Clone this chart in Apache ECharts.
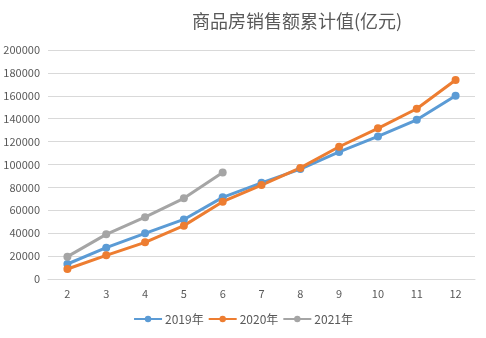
<!DOCTYPE html>
<html><head><meta charset="utf-8">
<script src="https://cdn.jsdelivr.net/npm/echarts@6/dist/echarts.min.js"></script>
<style>html,body{margin:0;padding:0;background:#fff}#c{width:486px;height:338px}</style>
</head><body><div id="c"></div>
<script>
const categories = ['2','3','4','5','6','7','8','9','10','11','12'];
const s2019 = [13100, 27400, 39900, 52000, 71300, 84000, 96000, 111000, 124500, 139000, 160000];
const s2020 = [8700, 20700, 32000, 46600, 67500, 82000, 97000, 115500, 131600, 148700, 173800];
const s2021 = [19500, 39000, 54000, 70500, 93000];
const yTicks = [0, 20000, 40000, 60000, 80000, 100000, 120000, 140000, 160000, 180000, 200000];
const names = ['2019年', '2020年', '2021年'];
const colors = ['#5B9BD5', '#ED7D31', '#A5A5A5'];

const chart = echarts.init(document.getElementById('c'), null, {renderer: 'canvas'});
const font = '"Microsoft YaHei","Noto Sans CJK SC",sans-serif';
function mk(name, data, color) {
  return {name, type: 'line', data, symbol: 'circle', symbolSize: 8,
    lineStyle: {width: 3, color}, itemStyle: {color}, animation: false};
}
chart.setOption({
  animation: false,
  title: {text: '商品房销售额累计值(亿元)', left: 292, top: 7, textAlign: 'center',
    textStyle: {fontSize: 18, fontWeight: 'normal', color: '#595959', fontFamily: font}},
  grid: {left: 48, right: 11, top: 50, bottom: 59},
  legend: {bottom: 8, left: 'center', itemWidth: 28, itemHeight: 8, itemGap: 4,
    textStyle: {fontSize: 12, color: '#595959', fontFamily: font, padding: [0, 0, 0, -2]},
    data: names},
  xAxis: {type: 'category', data: categories, boundaryGap: true,
    axisLine: {show: true, lineStyle: {color: '#D9D9D9'}}, axisTick: {show: false},
    axisLabel: {color: '#595959', fontSize: 11, margin: 9, fontFamily: font}},
  yAxis: {type: 'value', min: yTicks[0], max: yTicks[yTicks.length - 1], interval: 20000,
    axisLine: {show: false}, axisTick: {show: false},
    splitLine: {lineStyle: {color: '#D9D9D9', width: 1}},
    axisLabel: {color: '#595959', fontSize: 11, margin: 8, fontFamily: font,
      formatter: v => String(v)}},
  series: [mk(names[0], s2019, colors[0]), mk(names[1], s2020, colors[1]), mk(names[2], s2021, colors[2])]
});
</script></body></html>
